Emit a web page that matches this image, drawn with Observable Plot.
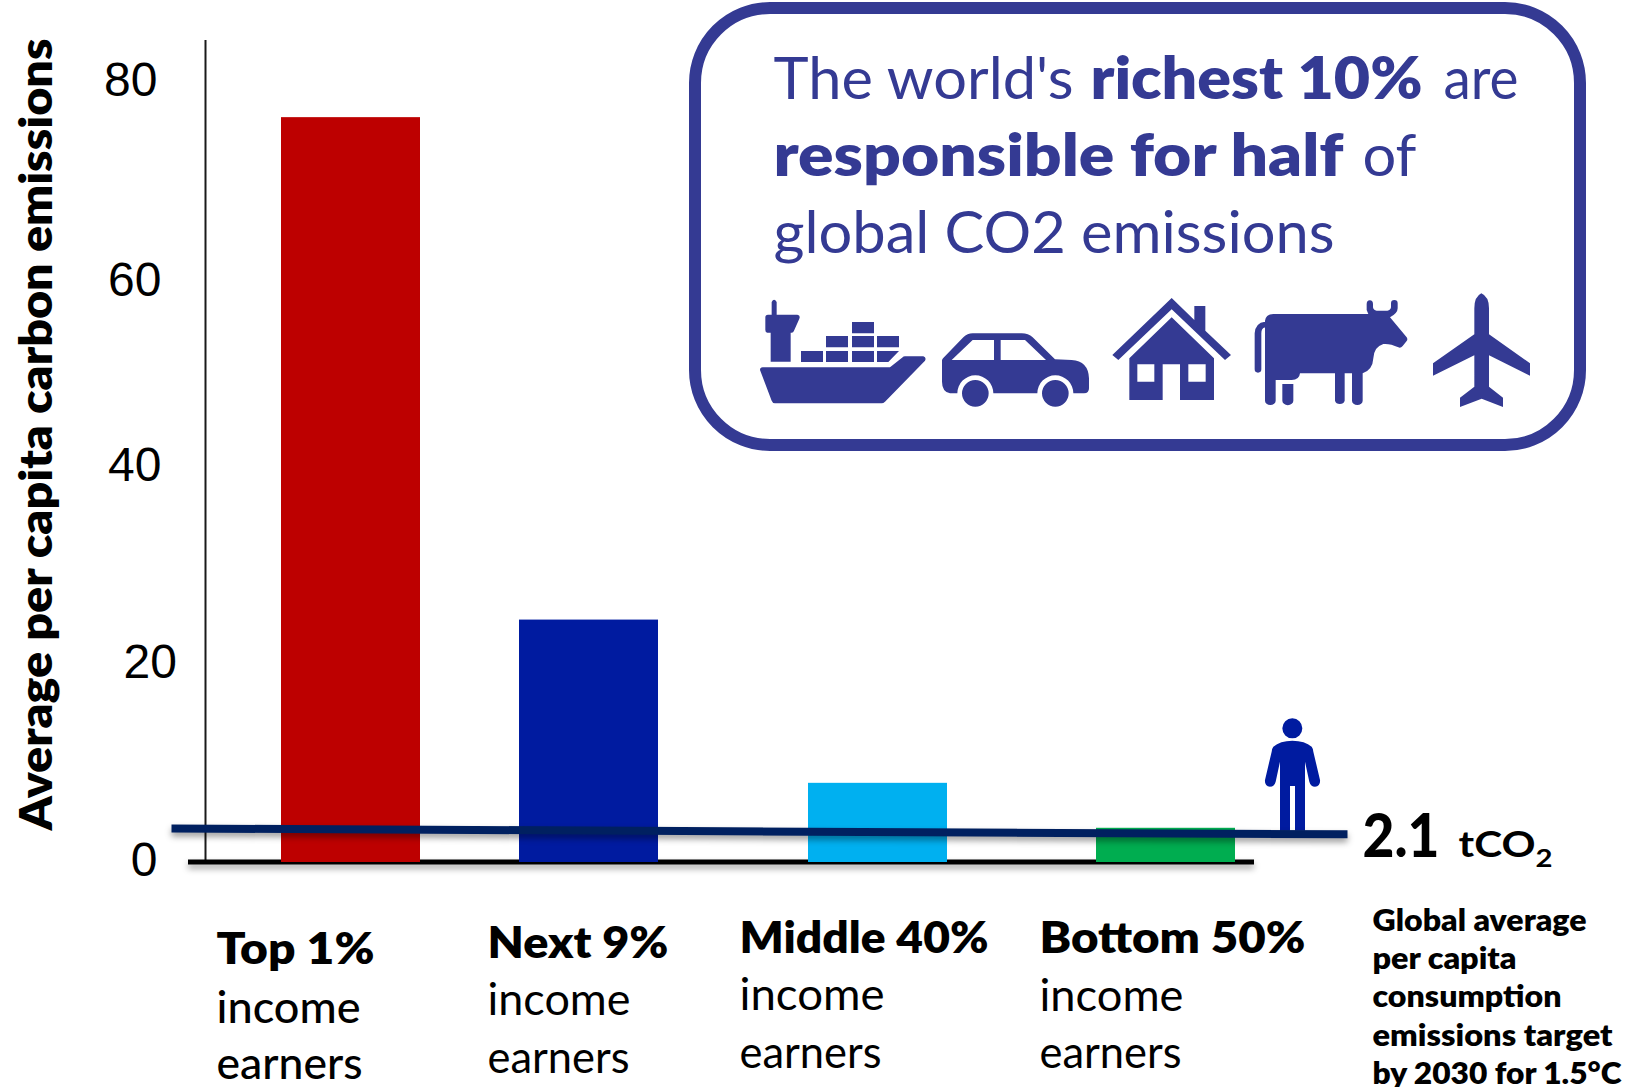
<!DOCTYPE html>
<html>
<head>
<meta charset="utf-8">
<script src="https://cdn.jsdelivr.net/npm/d3@7"></script>
<script src="https://cdn.jsdelivr.net/npm/@observablehq/plot@0.6"></script>
<style>
  html, body { margin: 0; padding: 0; background: #fff; }
  svg { display: block; overflow: visible; }
</style>
</head>
<body>
<div id="chart"></div>
<script>
// ---- data ----
const groups = ["Top 1%", "Next 9%", "Middle 40%", "Bottom 50%"];
const emissions = [76.2, 24.8, 8.1, 3.5];
const yTicks = [80, 60, 40, 20, 0];
const targetLine = [3.48, 2.88];
const yTitle = "Average per capita carbon emissions";
const incomeWord = "income";
const earnersWord = "earners";
const headlineA = ["The world's ", "richest 10%", " are"];
const headlineB = ["responsible for half", " of"];
const headlineC = ["global CO2 emissions"];
const targetValue = "2.1";
const targetUnit = "tCO";
const targetSub = "2";
const targetNote = ["Global average", "per capita", "consumption", "emissions target", "by 2030 for 1.5°C"];
const iconNames = ["ship", "car", "house", "cow", "plane"];

// ---- styles and layout (page pixels) ----
const barColors = ["#bd0000", "#001ba0", "#00b0f0", "#00ad50"];
const boxBlue = "#343a93";
const FONT = "Lato, sans-serif";
const barX = [[281, 420], [519, 658], [808, 947], [1096, 1235]];
const lineX = [171, 1347];
const shadow = "drop-shadow(0px 4px 3px rgba(0,0,0,0.38))";

function withShadow(index, scales, values, dims, context, next) {
  const g = next(index, scales, values, dims, context);
  g.style.filter = shadow;
  return g;
}

// Text placed by its baseline; fitted to a measured run length.
function label(text, x, baseline, { size, weight = 400, fill = "#000", width, rotate = 0 }) {
  return Plot.text([text], {
    text: d => d,
    frameAnchor: "top-left",
    dx: x, dy: baseline,
    lineAnchor: "bottom",
    textAnchor: "start",
    rotate,
    fontFamily: FONT,
    fontSize: size,
    fontWeight: weight,
    fill,
    render(index, scales, values, dims, context, next) {
      const g = next(index, scales, values, dims, context);
      g.querySelectorAll("text").forEach(t => {
        if (width) {
          t.setAttribute("textLength", width);
          t.setAttribute("lengthAdjust", "spacingAndGlyphs");
        }
      });
      return g;
    }
  });
}

// Pictograms, written in 3x units around an origin in the page.
const circle = (cx, cy, r) => `M${cx - r} ${cy}a${r} ${r} 0 1 0 ${2 * r} 0a${r} ${r} 0 1 0 ${-2 * r} 0Z`;
const box = (x0, x1, y0, y1) => `M${x0} ${y0}L${x1} ${y0}L${x1} ${y1}L${x0} ${y1}Z`;
const glyphs = {
  ship: {
    o: [750, 280], fill: boxBlue,
    d: "M30 270Q30 262 38 262L420 262L458 232Q460 229 465 229L520 229Q530 232 525 242L405 365Q400 370 395 370L75 370Q68 370 65 362Z" +
       "M46 112Q46 104 54 104L65 104L65 66Q72 52 80 66L80 104L142 104Q152 106 148 116L132 152Q130 158 125 158L122 158L122 245L62 245L62 158L52 158Q46 158 46 150Z" +
       box(306, 372, 126, 160) + box(228, 294, 168, 202) + box(306, 372, 168, 202) + box(381, 447, 168, 202) +
       box(153, 219, 213, 246) + box(228, 294, 213, 246) + box(306, 372, 213, 246) + "M381 213L447 213L415 246L381 246Z"
  },
  car: {
    o: [750, 280], fill: boxBlue,
    d: "M576 240Q578 236 582 232L640 172Q652 160 668 160L815 160Q835 160 848 172L915 238L965 240Q1015 243 1017 295L1017 325Q1017 340 1002 340L970 340A54 54 0 0 0 862 340L730 340A54 54 0 0 0 622 340L600 340Q576 335 576 305Z" +
       "M605 240L668 180L732 180L732 240Z" + "M752 180L825 180L888 240L752 240Z" + circle(676, 340, 40) + circle(916, 340, 40)
  },
  house: {
    o: [1150, 280], fill: boxBlue,
    d: "M65 54L133 120L133 78L166 78L166 152L243 225L225 240L65 88L-95 240L-113 225Z" +
       "M65 112L192 235L192 360L90 360L90 253L38 253L38 360L-62 360L-62 235Z" +
       box(115, 167, 253, 305) + box(-38, 13, 253, 305)
  },
  cow: {
    o: [1150, 280], fill: boxBlue,
    d: "M345 122Q348 102 370 102L655 102L650 90L650 72A9 11 0 0 1 669 72L669 82Q670 91 680 92L712 92Q722 91 723 82L723 70A10 10 0 0 1 743 70L743 85Q743 100 720 112L770 172Q774 178 770 183L758 198Q752 205 745 202Q720 190 700 192Q672 200 670 235Q668 270 638 280L638 362A16 13 0 0 1 606 362L606 280L584 280L584 362A15 13 0 0 1 555 362L555 280L450 280Q448 300 425 300L377 300L377 362A16 13 0 0 1 345 362Z" +
       "M397 312L430 312L430 362A16 13 0 0 1 397 362Z" +
       "M345 125Q316 128 314 160L314 268A10 10 0 0 0 334 268L334 160Q334 145 345 142Z"
  },
  plane: {
    o: [1150, 280], fill: boxBlue,
    d: "M994 40Q1017 50 1017 85L1017 163L1140 250L1140 287L1017 226L1017 320L1059 353L1059 381L995 356L930 381L930 353L973 320L973 226L849 287L849 250L973 163L973 85Q973 50 994 40Z"
  },
  person: {
    o: [1220, 700], fill: "#001ba0",
    d: circle(217, 85, 30) +
       "M217 122Q255 122 275 140Q279 145 280 155L300 240Q302 258 285 260Q272 260 268 245L255 185L255 392L225 392L225 258L210 258L210 392L180 392L180 185L167 245Q163 260 150 260Q133 258 135 240L155 155Q156 145 160 140Q180 122 217 122Z"
  }
};
function glyphMark(names) {
  return (index, scales) => {
    const g = d3.create("svg:g");
    for (const n of names) {
      const { o, fill, d } = glyphs[n];
      g.append("path")
        .attr("d", d)
        .attr("fill", fill)
        .attr("fill-rule", "evenodd")
        .attr("transform", `translate(${scales.x(o[0])},${o[1]}) scale(${1 / 3})`);
    }
    return g.node();
  };
}

// ---- chart ----
const barRows = groups.map((name, i) => ({ name, value: emissions[i], x1: barX[i][0], x2: barX[i][1], fill: barColors[i] }));
const lineRows = targetLine.map((v, i) => ({ x: lineX[i], y: v }));
const tickShift = new Map([[80, [157, 0]], [60, [161, 4.5]], [40, [161, -6]], [20, [176.5, -4.5]], [0, [157, -2]]]);

const catLabelX = [216, 487, 739, 1039];
const catBase = [[963, 1022, 1078], [957, 1014, 1072], [952, 1009, 1067], [952, 1010, 1067]];
const catW = [[158, 144, 146], [181, 143, 142], [249, 145, 142], [266, 144, 142]];
const noteBase = [930, 968, 1006, 1045, 1083];
const noteW = [214, 144, 189, 240, 249];

const marks = [
  Plot.ruleX([205], { y1: 0, y2: 84.1, stroke: "#1a1a1a", strokeWidth: 2 }),
  Plot.ruleY([0], { x1: 188, x2: 1254, dy: -0.5, stroke: "#000", strokeWidth: 5, render: withShadow }),
  Plot.rectY(barRows, { x1: "x1", x2: "x2", y1: 0, y2: "value", fill: "fill" }),
  glyphMark(["person"]),
  Plot.line(lineRows, { x: "x", y: "y", stroke: "#002060", strokeWidth: 8, strokeLinecap: "butt", render: withShadow }),
  ...yTicks.map(t => {
    const [right, shift] = tickShift.get(t);
    return Plot.axisY([t], {
      anchor: "left", tickSize: 0, tickPadding: 0, label: null,
      dx: right, dy: shift, textAnchor: "end",
      fontSize: 48, fontFamily: "'Liberation Sans', Arial, sans-serif", fill: "#000"
    });
  }),
  label(yTitle, 51, 830, { size: 45, weight: 800, width: 792, rotate: -90 }),

  Plot.rect([1], {
    x1: () => 695, x2: () => 1580,
    y1: () => (862 - 8) / 9.775, y2: () => (862 - 445) / 9.775,
    fill: "#fff", stroke: boxBlue, strokeWidth: 12, rx: 75
  }),
  label(headlineA[0].trim(), 773, 98, { size: 58, weight: 400, fill: boxBlue, width: 300 }),
  label(headlineA[1], 1090, 98, { size: 58, weight: 800, fill: boxBlue, width: 332 }),
  label(headlineA[2].trim(), 1443, 98, { size: 58, weight: 400, fill: boxBlue, width: 75 }),
  label(headlineB[0], 773, 175, { size: 58, weight: 800, fill: boxBlue, width: 570 }),
  label(headlineB[1].trim(), 1362, 175, { size: 58, weight: 400, fill: boxBlue, width: 54 }),
  label(headlineC[0], 773, 252, { size: 58, weight: 400, fill: boxBlue, width: 561 }),
  glyphMark(iconNames),

  ...groups.flatMap((g, i) => [
    label(g, catLabelX[i], catBase[i][0], { size: 44, weight: 800, width: catW[i][0] }),
    label(incomeWord, catLabelX[i], catBase[i][1], { size: 44, weight: i === 0 ? 500 : 400, width: catW[i][1] }),
    label(earnersWord, catLabelX[i], catBase[i][2], { size: 44, weight: i === 0 ? 500 : 400, width: catW[i][2] })
  ]),
  label(targetValue, 1362, 856, { size: 60, weight: 900, width: 77 }),
  label(targetUnit, 1458, 856, { size: 37, weight: 700, width: 77 }),
  label(targetSub, 1535, 866, { size: 24, weight: 700, width: 17 }),
  ...targetNote.map((t, i) => label(t, 1372, noteBase[i], { size: 30, weight: 800, width: noteW[i] }))
];

const chart = Plot.plot({
  width: 1644,
  height: 1087,
  marginTop: 0, marginRight: 0, marginBottom: 0, marginLeft: 0,
  style: { background: "#fff", overflow: "visible" },
  x: { domain: [0, 1644], range: [0, 1644], axis: null },
  y: { domain: [0, 80], range: [862, 80] },
  marks
});
document.getElementById("chart").append(chart);
</script>
</body>
</html>
